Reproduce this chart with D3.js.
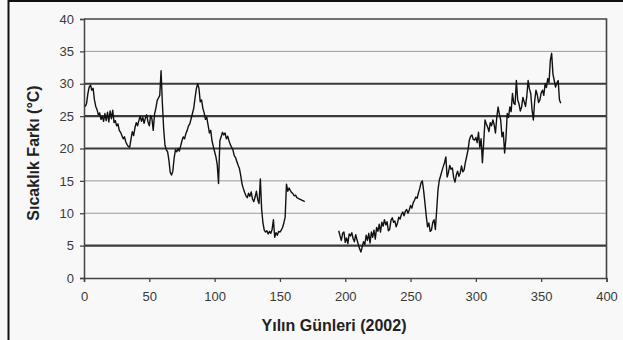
<!DOCTYPE html>
<html>
<head>
<meta charset="utf-8">
<script src="https://cdn.jsdelivr.net/npm/d3@7"></script>
<style>
  html, body { margin: 0; padding: 0; background: #f8f8f8; }
  svg { display: block; }
  text { font-family: "Liberation Sans", Arial, sans-serif; }
</style>
</head>
<body>
<svg id="chart" width="623" height="340"></svg>
<script>
// Daily temperature difference (°C), 2002 — first measuring period starts on day 1
const period1Start = 1;
const period1 = [
  26.5, 27, 28.5, 29.5, 29.8, 29, 29.3, 27.5, 26.5, 26,
  25.2, 25.5, 24.5, 25, 24.2, 25.4, 24.3, 25.6, 24.1, 25.8,
  24.6, 25.9, 24, 24.3, 23.5, 23.8, 22.8, 22.5, 22, 21.5,
  21.8, 21, 20.6, 20.3, 20.2, 21.5, 22.6, 22, 23.2, 24,
  23.5, 24.3, 25, 24.2, 24.8, 23.9, 24.7, 25.2, 24.1, 23.5,
  25.1, 24.6, 22.8, 25.3, 26.2, 27.4, 27.8, 28.2, 32, 27,
  23, 20.5, 19.8, 19.5, 18.2, 16.3, 15.9, 16.5, 18.5, 19.8,
  19.5, 20, 19.6, 20.4, 21.2, 21.8, 21.5, 22.3, 22.8, 23.5,
  23.8, 24.6, 25.4, 26.2, 27.8, 29.2, 30, 29.3, 27.2, 27.5,
  26.2, 25.5, 24.5, 24.8, 23.6, 22.4, 22.8, 21.2, 20.3, 19.5,
  18.7, 17.5, 14.6, 21.2, 21.8, 22.5, 22.1, 22.4, 21.5, 21.9,
  21.2, 20.6, 20.2, 19.8, 18.9, 18.6, 18, 17.4, 16.9, 15.8,
  14.5, 13.8, 13.2, 12.7, 12.4, 13.1, 12.6, 13.3, 12.2, 11.8,
  12.5, 13.4, 12.1, 11.5, 15.3, 10.6, 8.5, 7.4, 7.1, 7.3,
  6.8, 7.2, 6.9, 7.5, 9, 6.3, 7, 6.6, 7.2, 7.1,
  7.4, 7.8, 8.5, 9.4, 14.5, 13.4, 13.9, 13.5, 13.2, 13,
  12.7, 12.8, 12.4, 12.3, 12.2, 12.1, 12, 11.9, 11.8
];

// Second measuring period starts on day 195
const period2Start = 195;
const period2 = [
  7.3, 6.5, 5.8, 6.9, 7.1, 5.5, 6.2, 5.3, 6.8, 6.5,
  7, 6.1, 5.6, 6.7, 5.9, 5.2, 4.5, 4, 4.8, 5.6,
  5.2, 6.6, 5.8, 6.9, 5.4, 7.1, 6.3, 7.4, 6, 7.8,
  7.2, 8.3, 7.1, 8.6, 8, 9, 8.2, 8.7, 7.3, 7.5,
  8.9, 9.3, 8.6, 8.8, 7.9, 8.5, 9.4, 9.1, 9.8, 10.2,
  9.6, 10.3, 10.6, 10, 10.5, 11.2, 10.8, 11.6, 12, 12.5,
  12.3, 13.1, 13.8, 14.7, 15, 13.5, 11.6, 9.6, 7.9, 8.5,
  7.2, 7.4, 8.6, 9, 7.5, 10.5, 13.6, 15.1, 15.8, 16.5,
  17.2, 17.8, 18.7, 15.6, 16.3, 17.4, 16.8, 17, 15.5, 14.8,
  15.9, 16.5, 15.7, 16.2, 17.3, 16.4, 16.7, 17.9, 18.8, 19.8,
  21.3, 21.9, 22.1, 21.4, 21.3, 21.7, 20.9, 22.5, 20.2, 21.5,
  17.8, 21, 24.4, 23.8, 23.3, 22.6, 24, 23.5, 24.4, 23.7,
  22.4, 24.8, 26.4, 25.3, 24.4, 21.8, 22.5, 19.3, 21.5, 25.4,
  24.8, 26.4, 25.7, 28.5, 27, 26.8, 30.5, 27.5, 26.9, 25.8,
  26.4, 27.9, 27.2, 26.5, 28.1, 30.5, 29.2, 28.5, 26, 24.4,
  27.3, 29, 28.3, 27.1, 27.5, 28.6, 29, 28.2, 30, 29.4,
  30.8, 30.2, 33.6, 34.7, 31.5, 30.5, 29.5, 30.1, 30.5, 27.5,
  27
];

const xTicks = [0, 50, 100, 150, 200, 250, 300, 350, 400];
const yTicks = [0, 5, 10, 15, 20, 25, 30, 35, 40];
const heavyGrid = [5, 20, 25, 30];
const lightGrid = [10, 15, 35];

const xTitle = "Yılın Günleri (2002)";
const yTitle = "Sıcaklık Farkı (°C)";

const svg = d3.select("#chart");
const W = 623, H = 340;
const plotL = 84, plotR = 606.5, plotT = 19, plotB = 278;

const x = d3.scaleLinear().domain([0, 400]).range([plotL, plotR]);
const y = d3.scaleLinear().domain([0, 40]).range([plotB, plotT]);

// outer frame (top and left edges visible)
svg.append("path")
  .attr("d", `M8.5,${H} V1 H${W}`)
  .attr("fill", "none").attr("stroke", "#111").attr("stroke-width", 2);

// light gridlines
svg.append("g").selectAll("line").data(lightGrid).join("line")
  .attr("x1", plotL).attr("x2", plotR)
  .attr("y1", d => y(d)).attr("y2", d => y(d))
  .attr("stroke", "#9a9a9a").attr("stroke-width", 1);

// heavy gridlines
svg.append("g").selectAll("line").data(heavyGrid).join("line")
  .attr("x1", plotL).attr("x2", plotR)
  .attr("y1", d => y(d)).attr("y2", d => y(d))
  .attr("stroke", "#3a3a3a").attr("stroke-width", 2.2);

// plot-area top and right edges
svg.append("path")
  .attr("d", `M${plotL},${y(40)} H${plotR} V${plotB}`)
  .attr("fill", "none").attr("stroke", "#444").attr("stroke-width", 1.6);

// axes
const yAxis = svg.append("g")
  .attr("transform", `translate(${plotL},0)`)
  .call(d3.axisLeft(y).tickValues(yTicks).tickSize(4).tickPadding(6));
const xAxis = svg.append("g")
  .attr("transform", `translate(0,${plotB})`)
  .call(d3.axisBottom(x).tickValues(xTicks).tickSize(4).tickPadding(10));

[yAxis, xAxis].forEach(g => {
  g.select(".domain").attr("stroke", "#444").attr("stroke-width", 1.5);
  g.selectAll(".tick line").attr("stroke", "#444").attr("stroke-width", 1.3);
  g.selectAll(".tick text")
    .attr("fill", "#3a3a3a")
    .style("font-size", "13px")
    .style("font-family", "'Liberation Sans', Arial, sans-serif");
});

// data lines
const line = d3.line()
  .x(d => x(d.day))
  .y(d => y(d.value));

const series = [
  period1.map((v, i) => ({ day: period1Start + i, value: v })),
  period2.map((v, i) => ({ day: period2Start + i, value: v }))
];

svg.append("g").selectAll("path").data(series).join("path")
  .attr("d", line)
  .attr("fill", "none")
  .attr("stroke", "#111")
  .attr("stroke-width", 1.4)
  .attr("stroke-linejoin", "round");

// axis titles
svg.append("text")
  .attr("x", 334).attr("y", 331)
  .attr("text-anchor", "middle")
  .attr("fill", "#222")
  .style("font-size", "16px").style("font-weight", "bold")
  .text(xTitle);

svg.append("text")
  .attr("transform", `translate(39,153) rotate(-90)`)
  .attr("text-anchor", "middle")
  .attr("fill", "#222")
  .style("font-size", "16px").style("font-weight", "bold")
  .text(yTitle);
</script>
</body>
</html>
